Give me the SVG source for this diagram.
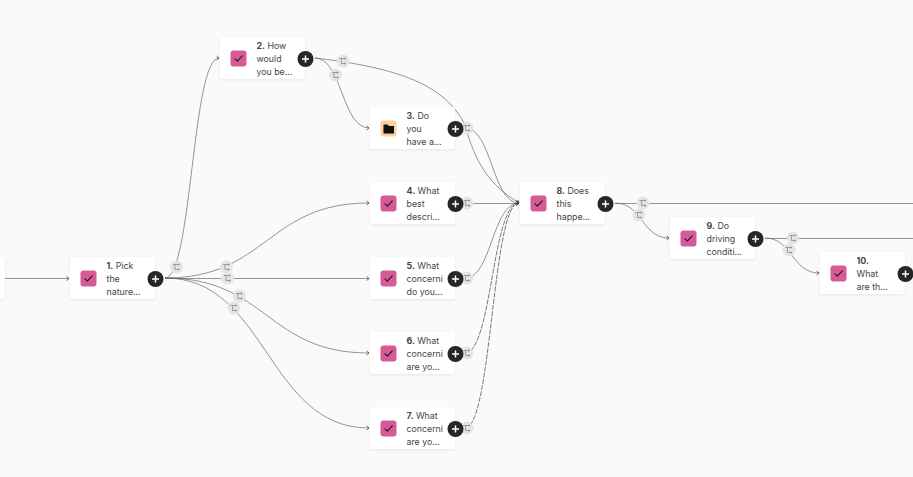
<svg xmlns="http://www.w3.org/2000/svg" width="913" height="477" viewBox="0 0 913 477">
<style>
.card{fill:#fff;filter:drop-shadow(0 1px 1.5px rgba(0,0,0,.08))}
.ico{fill:#d65a98}
.ico2{fill:#fbd19c}
.chk{fill:none;stroke:#1c1c1c;stroke-width:1.1;stroke-linecap:round;stroke-linejoin:round}
.plus circle{fill:#262626}
.plus path{stroke:#fff;stroke-width:1.5;fill:none}
text{font-family:Inter,"Liberation Sans",sans-serif;font-size:8.8px;fill:#454545}
.e{fill:none;stroke:#5e5e5e;stroke-width:.65}
.d{stroke:#333;stroke-dasharray:5 1.2}
.b circle{fill:#e4e4e4}
.b path{fill:none;stroke:#808080;stroke-width:.7}
</style>
<defs>
<marker id="a" markerUnits="userSpaceOnUse" markerWidth="6" markerHeight="6" refX="4" refY="3" orient="auto"><path d="M1.5 1 L4 3 L1.5 5" fill="none" stroke="#444" stroke-width=".8"/></marker>
<clipPath id="tc"><rect x="0" y="0" width="75" height="42"/></clipPath>
<g id="badge" class="b"><circle r="6.500"/><path d="M-3.500-2.500H3M-1.500-2.500V2.500H3M2-3.500V-1.500M2 1.500V3.500"/></g>
<g id="plus" class="plus"><circle r="8"/><path d="M-3.500 0H3.500M0-3.500V3.500"/></g>
<path id="check" class="chk" d="M-3.500 0.300L-1.200 2.600 3.800-2.600"/>
</defs>
<rect width="913" height="477" fill="#fafafa"/>
<g id="connectors">
<g marker-end="url(#a)">
<path class="e" d="M5 278.500H69"/>
<path class="e" d="M165 278C192 278 192 58 219 58"/>
<path class="e" d="M165 278C267 278 267 203 369 203"/>
<path class="e" d="M165 278.500H369"/>
<path class="e" d="M165 278C267 278 267 353 369 353"/>
<path class="e" d="M165 278C267 278 267 428 369 428"/>
<path class="e" d="M315 58C342 58 342 128 369 128"/>
<path class="e" d="M315 58C400 68 445 85 465 125C476 165 490 185 519 203"/>
<path class="e" d="M465 128C492 128 492 203 519 203"/>
<path class="e" d="M465 203.500H519"/>
<path class="e" d="M465 278C492 278 492 203 519 203"/>
<path class="e d" d="M465 353C492 353 492 203 519 203"/>
<path class="e d" d="M465 428C492 428 492 203 519 203"/>
<path class="e" d="M615 203C642 203 642 238 669 238"/>
<path class="e" d="M765 238C792 238 792 273 819 273"/>
</g>
<path class="e" d="M615 203.500H913"/>
<path class="e" d="M765 238.500H913"/>
<use href="#badge" x="176.500" y="267"/>
<use href="#badge" x="226.500" y="267"/>
<use href="#badge" x="227.500" y="278"/>
<use href="#badge" x="239.500" y="296"/>
<use href="#badge" x="234" y="308"/>
<use href="#badge" x="343" y="61"/>
<use href="#badge" x="335.500" y="75"/>
<use href="#badge" x="467" y="128"/>
<use href="#badge" x="467" y="203"/>
<use href="#badge" x="467" y="278"/>
<use href="#badge" x="467" y="353"/>
<use href="#badge" x="467" y="428"/>
<use href="#badge" x="643" y="203"/>
<use href="#badge" x="639" y="215"/>
<use href="#badge" x="793" y="238"/>
<use href="#badge" x="789" y="250"/>
</g>
<g id="node-0" transform="translate(-80 257)"><rect class="card" width="85" height="42" rx="2"/></g>
<g id="node-1" transform="translate(70 257)"><rect class="card" width="85" height="42" rx="2"/><rect class="ico" x="10.500" y="13.500" width="16" height="16" rx="3"/><use href="#check" x="18.500" y="21.500"/><text clip-path="url(#tc)"><tspan x="36.500" y="12"><tspan font-weight="700">1.</tspan> Pick</tspan><tspan x="36.500" y="25">the</tspan><tspan x="36.500" y="38">nature...</tspan></text><use href="#plus" x="85.500" y="22"/></g>
<g id="node-2" transform="translate(220 37)"><rect class="card" width="85" height="42" rx="2"/><rect class="ico" x="10.500" y="13.500" width="16" height="16" rx="3"/><use href="#check" x="18.500" y="21.500"/><text clip-path="url(#tc)"><tspan x="36.500" y="12"><tspan font-weight="700">2.</tspan> How</tspan><tspan x="36.500" y="25">would</tspan><tspan x="36.500" y="38">you be...</tspan></text><use href="#plus" x="85.500" y="22"/></g>
<g id="node-3" transform="translate(370 107)"><rect class="card" width="85" height="42" rx="2"/><rect class="ico2" x="10.500" y="13.500" width="16" height="16" rx="3"/><path d="M13.500 17.500h4l1.500 1.500h5v7.500h-10.500z" fill="#111"/><text clip-path="url(#tc)"><tspan x="36.500" y="12"><tspan font-weight="700">3.</tspan> Do</tspan><tspan x="36.500" y="25">you</tspan><tspan x="36.500" y="38">have a...</tspan></text><use href="#plus" x="85.500" y="22"/></g>
<g id="node-4" transform="translate(370 182)"><rect class="card" width="85" height="42" rx="2"/><rect class="ico" x="10.500" y="13.500" width="16" height="16" rx="3"/><use href="#check" x="18.500" y="21.500"/><text clip-path="url(#tc)"><tspan x="36.500" y="12"><tspan font-weight="700">4.</tspan> What</tspan><tspan x="36.500" y="25">best</tspan><tspan x="36.500" y="38">descri...</tspan></text><use href="#plus" x="85.500" y="22"/></g>
<g id="node-5" transform="translate(370 257)"><rect class="card" width="85" height="42" rx="2"/><rect class="ico" x="10.500" y="13.500" width="16" height="16" rx="3"/><use href="#check" x="18.500" y="21.500"/><text clip-path="url(#tc)"><tspan x="36.500" y="12"><tspan font-weight="700">5.</tspan> What</tspan><tspan x="36.500" y="25">concerni</tspan><tspan x="36.500" y="38">do you...</tspan></text><use href="#plus" x="85.500" y="22"/></g>
<g id="node-6" transform="translate(370 332)"><rect class="card" width="85" height="42" rx="2"/><rect class="ico" x="10.500" y="13.500" width="16" height="16" rx="3"/><use href="#check" x="18.500" y="21.500"/><text clip-path="url(#tc)"><tspan x="36.500" y="12"><tspan font-weight="700">6.</tspan> What</tspan><tspan x="36.500" y="25">concerni</tspan><tspan x="36.500" y="38">are yo...</tspan></text><use href="#plus" x="85.500" y="22"/></g>
<g id="node-7" transform="translate(370 407)"><rect class="card" width="85" height="42" rx="2"/><rect class="ico" x="10.500" y="13.500" width="16" height="16" rx="3"/><use href="#check" x="18.500" y="21.500"/><text clip-path="url(#tc)"><tspan x="36.500" y="12"><tspan font-weight="700">7.</tspan> What</tspan><tspan x="36.500" y="25">concerni</tspan><tspan x="36.500" y="38">are yo...</tspan></text><use href="#plus" x="85.500" y="22"/></g>
<g id="node-8" transform="translate(520 182)"><rect class="card" width="85" height="42" rx="2"/><rect class="ico" x="10.500" y="13.500" width="16" height="16" rx="3"/><use href="#check" x="18.500" y="21.500"/><text clip-path="url(#tc)"><tspan x="36.500" y="12"><tspan font-weight="700">8.</tspan> Does</tspan><tspan x="36.500" y="25">this</tspan><tspan x="36.500" y="38">happe...</tspan></text><use href="#plus" x="85.500" y="22"/></g>
<g id="node-9" transform="translate(670 217)"><rect class="card" width="85" height="42" rx="2"/><rect class="ico" x="10.500" y="13.500" width="16" height="16" rx="3"/><use href="#check" x="18.500" y="21.500"/><text clip-path="url(#tc)"><tspan x="36.500" y="12"><tspan font-weight="700">9.</tspan> Do</tspan><tspan x="36.500" y="25">driving</tspan><tspan x="36.500" y="38">conditi...</tspan></text><use href="#plus" x="85.500" y="22"/></g>
<g id="node-10" transform="translate(820 252)"><rect class="card" width="85" height="42" rx="2"/><rect class="ico" x="10.500" y="13.500" width="16" height="16" rx="3"/><use href="#check" x="18.500" y="21.500"/><text clip-path="url(#tc)"><tspan x="36.500" y="12" font-weight="700">10.</tspan><tspan x="36.500" y="25">What</tspan><tspan x="36.500" y="38">are th...</tspan></text><use href="#plus" x="85.500" y="22"/></g>
</svg>
